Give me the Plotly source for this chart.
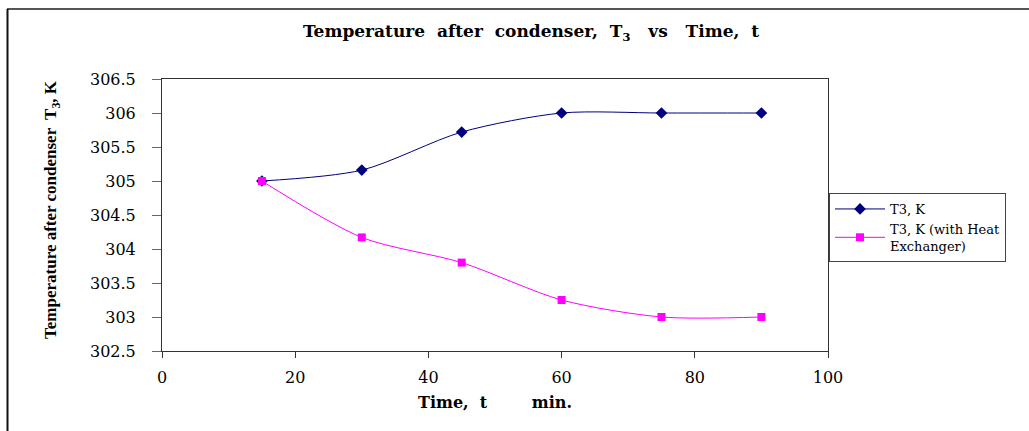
import plotly.graph_objects as go

time_min = [15, 30, 45, 60, 75, 90]
t3 = [305.0, 305.16, 305.72, 306.0, 306.0, 306.0]
t3_hx = [305.0, 304.17, 303.8, 303.25, 303.0, 303.0]

x_ticks = [0, 20, 40, 60, 80, 100]
y_ticks = [302.5, 303, 303.5, 304, 304.5, 305, 305.5, 306, 306.5]

WIDE = "DejaVu Serif, serif"
NARROW = "Liberation Serif, Times New Roman, serif"
W, H = 1029, 431
L, R, T, B = 162, 201, 79, 80

fig = go.Figure()
fig.add_trace(go.Scatter(
    x=time_min, y=t3, mode="lines+markers", name="T3, K",
    line=dict(color="#000080", width=1, shape="spline", smoothing=0.8),
    marker=dict(symbol="diamond", size=9, color="#000080"),
))
fig.add_trace(go.Scatter(
    x=time_min, y=t3_hx, mode="lines+markers", name="T3, K (with Heat<br>Exchanger)",
    line=dict(color="#FF00FF", width=1, shape="spline", smoothing=0.8),
    marker=dict(symbol="square", size=8, color="#FF00FF"),
))

pw = W - L - R
ph = H - T - B
def px(xp):
    return (xp - L) / pw
def py(yp):
    return (H - B - yp) / ph

fig.update_layout(
    width=W, height=H,
    margin=dict(l=L, r=R, t=T, b=B),
    paper_bgcolor="white", plot_bgcolor="white",
    font=dict(family=WIDE, size=15, color="black"),
    title=dict(
        text="<b>Temperature  after  condenser,  T<sub>3</sub>   vs   Time,  t</b>",
        x=px(531), xanchor="center", xref="paper",
        y=1 - 31 / H, yanchor="middle",
        font=dict(family=WIDE, size=17, color="black"),
    ),
    xaxis=dict(
        range=[0, 100], tickvals=x_ticks, ticktext=[str(v) for v in x_ticks],
        showgrid=False, zeroline=False, showline=True, linecolor="#333", linewidth=1,
        mirror=True, ticks="outside", ticklen=6, tickcolor="#333",
        ticklabelstandoff=6,
        tickfont=dict(family=WIDE, size=16),
        title=dict(text="<b>Time,  t        min.</b>", font=dict(family=WIDE, size=16), standoff=10),
    ),
    yaxis=dict(
        range=[302.5, 306.5], tickvals=y_ticks, ticktext=[f"{v:g}" for v in y_ticks],
        showgrid=False, zeroline=False, showline=True, linecolor="#333", linewidth=1,
        mirror=True, ticks="outside", ticklen=9, tickcolor="#666",
        ticklabelstandoff=13,
        tickfont=dict(family=WIDE, size=16),
    ),
    legend=dict(
        x=px(829), y=py(193), xanchor="left", yanchor="top",
        bordercolor="#444", borderwidth=1, bgcolor="white",
        font=dict(family=WIDE, size=13),
        tracegroupgap=2, itemwidth=50,
    ),
    showlegend=True,
)

# y axis title as annotation for exact placement
fig.add_annotation(
    text="<b>Temperature after condenser  T<sub>3</sub>, K</b>",
    xref="paper", yref="paper", x=px(52), y=py(210),
    xanchor="center", yanchor="middle", textangle=-90, showarrow=False,
    font=dict(family=NARROW, size=17, color="black"),
)

# outer frame lines (top and left)
fig.add_shape(type="line", xref="paper", yref="paper",
              x0=px(7), x1=px(W + 5), y0=py(9), y1=py(9),
              line=dict(color="#555", width=2))
fig.add_shape(type="line", xref="paper", yref="paper",
              x0=px(7.5), x1=px(7.5), y0=py(9), y1=py(H + 5),
              line=dict(color="#111", width=2))

fig.write_html("out.html")
